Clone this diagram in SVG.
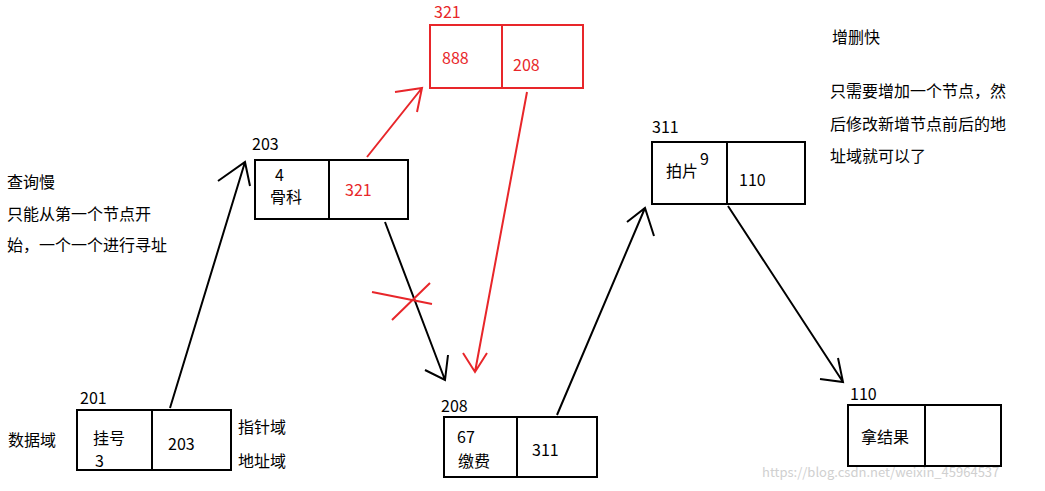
<svg xmlns="http://www.w3.org/2000/svg" width="1045" height="491" viewBox="0 0 1045 491">
<defs>
<style>
text{font-family:"Noto Sans CJK SC","Liberation Sans",sans-serif;font-size:16px;fill:#000}
.r{fill:#e8262a}
.b{fill:none;stroke:#000;stroke-width:2}
.rb{fill:none;stroke:#e8262a;stroke-width:2}
.wm{fill:#d0d0d0;font-size:13px}
</style>
</defs>
<rect width="1045" height="491" fill="#fff"/>
<g id="n201"><rect class="b" x="77" y="410" width="154" height="60"/><line class="b" x1="152" y1="410" x2="152" y2="470"/><text x="80" y="404">201</text><text x="93" y="444">挂号</text><text x="95" y="467">3</text><text x="168" y="450">203</text></g>
<g id="n203"><rect class="b" x="255" y="160" width="153" height="59"/><line class="b" x1="329" y1="160" x2="329" y2="219"/><text x="252" y="150">203</text><text x="275" y="181">4</text><text x="270" y="203">骨科</text><text class="r" x="345" y="196">321</text></g>
<g id="n321"><rect class="rb" x="430" y="25" width="153" height="63"/><line class="rb" x1="502" y1="25" x2="502" y2="88"/><text class="r" x="434" y="18">321</text><text class="r" x="442" y="64">888</text><text class="r" x="513" y="71">208</text></g>
<g id="n208"><rect class="b" x="444" y="417" width="153" height="60"/><line class="b" x1="517" y1="417" x2="517" y2="477"/><text x="457" y="443">67</text><text x="441" y="412">208</text><text x="458" y="467">缴费</text><text x="532" y="456">311</text></g>
<g id="n311"><rect class="b" x="652" y="142" width="153" height="62"/><line class="b" x1="727" y1="142" x2="727" y2="204"/><text x="652" y="133">311</text><text x="666" y="177">拍片</text><text x="700" y="165">9</text><text x="739" y="186">110</text></g>
<g id="n110"><rect class="b" x="848" y="405" width="153" height="61"/><line class="b" x1="925" y1="405" x2="925" y2="466"/><text x="850" y="400">110</text><text x="861" y="443">拿结果</text></g>
<g id="labels">
<text x="7" y="188">查询慢</text><text x="7" y="220">只能从第一个节点开</text><text x="7" y="251">始，一个一个进行寻址</text>
<text x="8" y="446">数据域</text><text x="238" y="433">指针域</text><text x="238" y="467">地址域</text>
<text x="832" y="43">增删快</text><text x="830" y="97">只需要增加一个节点，然</text><text x="830" y="130">后修改新增节点前后的地</text><text x="830" y="162">址域就可以了</text>
<text class="wm" x="762" y="477">https://blog.csdn.net/weixin_45964537</text>
</g>
<g id="connectors">
<path class="b" d="M170 408 L245 162 M218 181 L245 162 L250 186"/>
<path class="b" d="M385 222 L445 380 M425 370 L445 380 L448 355"/>
<path class="b" d="M557 415 L645 208 M627 222 L645 208 L654 236"/>
<path class="b" d="M728 206 L843 382 M820 379 L843 382 L838 358"/>
<path class="rb" d="M367 157 L422 88 M395 92 L422 88 L417 112"/>
<path class="rb" d="M527 92 L475 372 M463 353 L475 372 L487 353"/>
<path class="rb" d="M372 292 L432 304 M392 320 L430 283"/>
</g>
</svg>
